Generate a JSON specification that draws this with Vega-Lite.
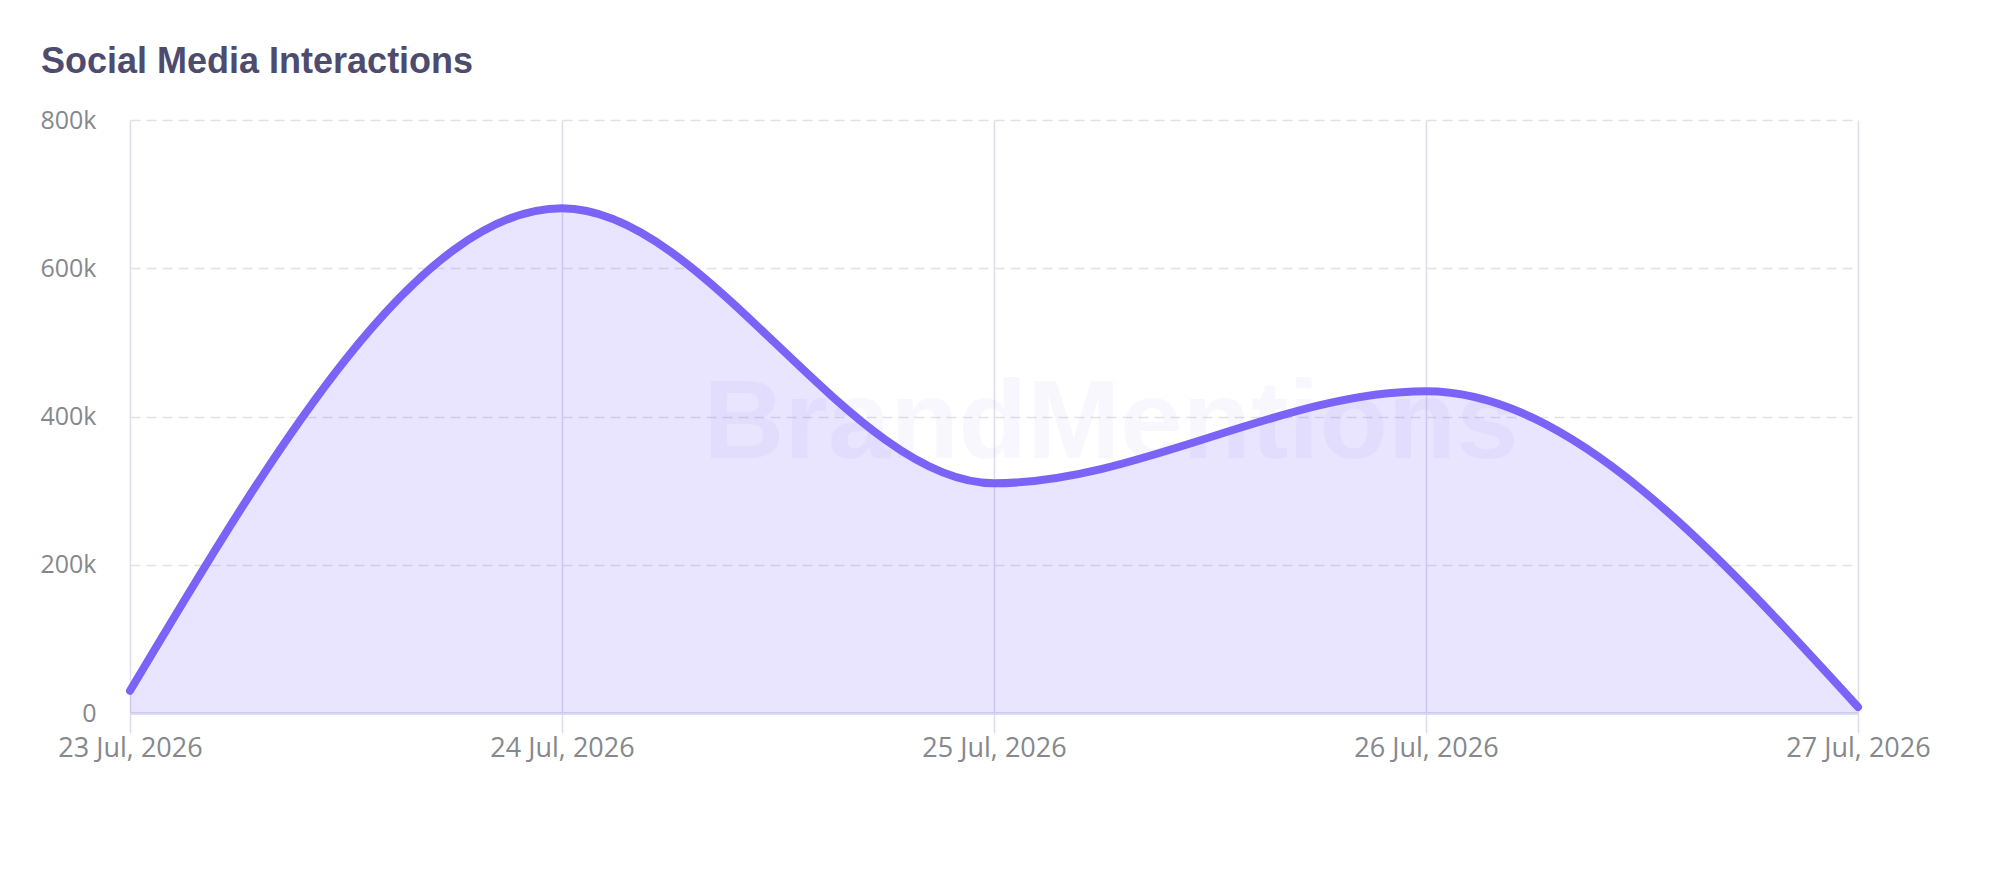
{
  "$schema": "https://vega.github.io/schema/vega-lite/v6.json",
  "width": 1728,
  "height": 593,
  "autosize": {"type": "none"},
  "padding": {"left": 130, "top": 120, "right": 141, "bottom": 167},
  "background": "white",
  "config": {"view": {"stroke": null}},
  "title": {
    "text": "Social Media Interactions",
    "anchor": "start",
    "frame": "group",
    "dx": -89,
    "offset": 26,
    "dy": 35,
    "baseline": "bottom",
    "font": "Liberation Sans",
    "fontSize": 36,
    "fontWeight": "bold",
    "color": "#4d4c6e"
  },
  "data": {
    "values": [
      {"date": "2026-07-23T00:00:00", "interactions": 30000},
      {"date": "2026-07-24T00:00:00", "interactions": 681000},
      {"date": "2026-07-25T00:00:00", "interactions": 310000},
      {"date": "2026-07-26T00:00:00", "interactions": 434000},
      {"date": "2026-07-27T00:00:00", "interactions": 8000}
    ]
  },
  "layer": [
    {
      "mark": {"type": "area", "interpolate": "monotone", "color": "#7b61ff", "fillOpacity": 0.17},
      "encoding": {
        "x": {
          "field": "date",
          "type": "temporal",
          "title": null,
          "scale": {"domain": [{"year": 2026, "month": 7, "date": 23}, {"year": 2026, "month": 7, "date": 27}]},
          "axis": {
            "values": [
              {"year": 2026, "month": 7, "date": 23},
              {"year": 2026, "month": 7, "date": 24},
              {"year": 2026, "month": 7, "date": 25},
              {"year": 2026, "month": 7, "date": 26},
              {"year": 2026, "month": 7, "date": 27}
            ],
            "format": "%-d %b, %Y",
            "labelFont": "Open Sans",
            "labelFontSize": 27,
            "labelColor": "#85888c",
            "labelAlign": "center",
            "labelPadding": 2,
            "labelOverlap": false,
            "labelFlush": false,
            "grid": true,
            "gridColor": "#dcdcee",
            "gridWidth": 1.5,
            "domain": true,
            "domainColor": "#d5d9f0",
            "domainWidth": 2.5,
            "ticks": true,
            "tickSize": 20,
            "tickColor": "#dcdcee",
            "tickWidth": 1.5
          }
        },
        "y": {
          "field": "interactions",
          "type": "quantitative",
          "title": null,
          "scale": {"domain": [0, 800000], "nice": false},
          "axis": {
            "values": [0, 200000, 400000, 600000, 800000],
            "labelExpr": "datum.value == 0 ? '0' : format(datum.value, '~s')",
            "labelFont": "Open Sans",
            "labelFontSize": 25,
            "labelColor": "#85888c",
            "labelPadding": 34,
            "domain": false,
            "ticks": false,
            "grid": true,
            "gridColor": "#e2e2e2",
            "gridWidth": 1.5,
            "gridDash": [10, 6]
          }
        }
      }
    },
    {
      "data": {"values": [{"label": "BrandMentions", "date": "2026-07-25T06:30:00", "interactions": 390000}]},
      "mark": {"type": "text", "font": "Liberation Sans", "fontWeight": "bold", "fontSize": 112, "color": "#8070e0", "opacity": 0.05, "align": "center", "baseline": "middle"},
      "encoding": {
        "x": {"field": "date", "type": "temporal"},
        "y": {"field": "interactions", "type": "quantitative"},
        "text": {"field": "label"}
      }
    },
    {
      "mark": {"type": "line", "interpolate": "monotone", "color": "#7a63f6", "strokeWidth": 8, "strokeCap": "round"},
      "encoding": {
        "x": {"field": "date", "type": "temporal"},
        "y": {"field": "interactions", "type": "quantitative"}
      }
    }
  ]
}
